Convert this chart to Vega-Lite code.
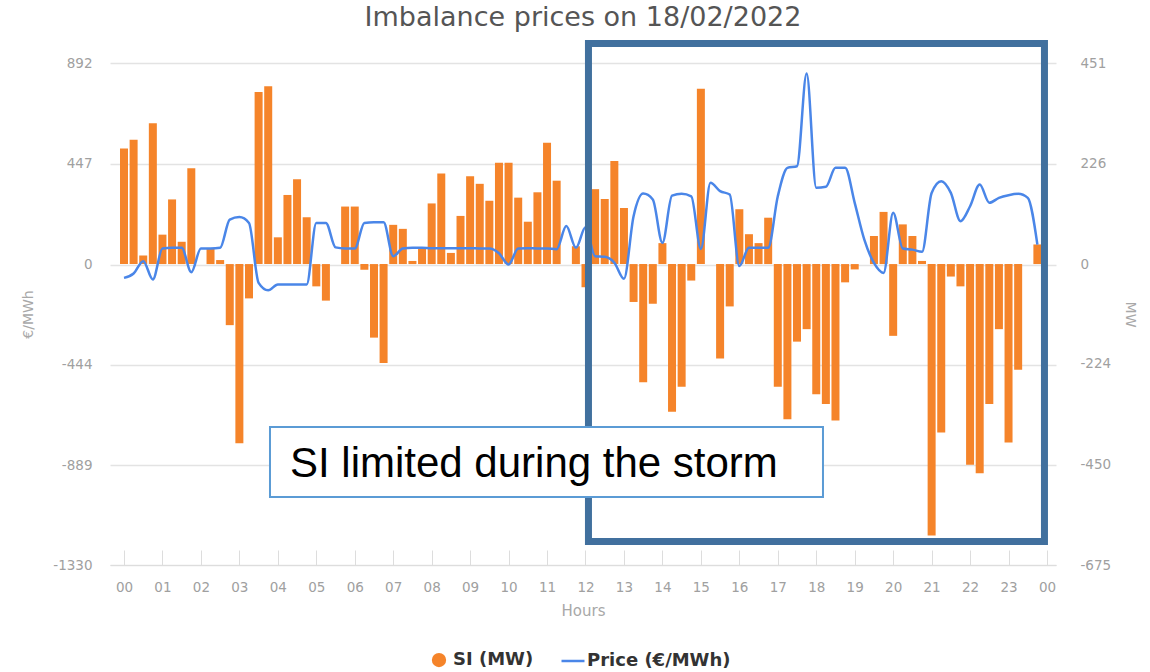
{
  "$schema": "https://vega.github.io/schema/vega-lite/v6.json",
  "width": 946,
  "height": 502,
  "autosize": {"type": "none"},
  "padding": {"left": 110, "top": 63, "right": 94, "bottom": 107},
  "background": "white",
  "title": {"text": "Imbalance prices on 18/02/2022", "font": "DejaVu Sans", "fontSize": 27, "fontWeight": "normal", "color": "#555555", "anchor": "middle", "offset": 8},
  "config": {
    "view": {"stroke": null},
    "axis": {"labelFont": "DejaVu Sans", "labelFontSize": 13.5, "labelColor": "#a0a0a0", "titleFont": "DejaVu Sans", "titleFontSize": 14, "titleColor": "#a8a8a8", "titleFontWeight": "normal", "gridColor": "#e3e3e3", "gridWidth": 1.5},
    "axisX": {"labelOverlap": false, "labelBound": false}
  },
  "datasets": {
    "imb": [
      {"t":0,"si":259,"price":-59},{"t":0.25,"si":279,"price":-40},{"t":0.5,"si":19,"price":15},{"t":0.75,"si":316,"price":-66},
      {"t":1,"si":66,"price":71},{"t":1.25,"si":145,"price":74},{"t":1.5,"si":50,"price":74},{"t":1.75,"si":215,"price":-34},
      {"t":2,"si":0,"price":71},{"t":2.25,"si":35,"price":71},{"t":2.5,"si":9,"price":74},{"t":2.75,"si":-137,"price":199},
      {"t":3,"si":-402,"price":210},{"t":3.25,"si":-77,"price":184},{"t":3.5,"si":386,"price":-81},{"t":3.75,"si":399,"price":-114},
      {"t":4,"si":60,"price":-88},{"t":4.25,"si":155,"price":-88},{"t":4.5,"si":190,"price":-88},{"t":4.75,"si":105,"price":-88},
      {"t":5,"si":-50,"price":184},{"t":5.25,"si":-82,"price":184},{"t":5.5,"si":0,"price":76},{"t":5.75,"si":129,"price":71},
      {"t":6,"si":129,"price":71},{"t":6.25,"si":-13,"price":184},{"t":6.5,"si":-165,"price":187},{"t":6.75,"si":-222,"price":187},
      {"t":7,"si":88,"price":37},{"t":7.25,"si":79,"price":71},{"t":7.5,"si":7,"price":74},{"t":7.75,"si":35,"price":74},
      {"t":8,"si":136,"price":72},{"t":8.25,"si":203,"price":72},{"t":8.5,"si":25,"price":72},{"t":8.75,"si":108,"price":72},
      {"t":9,"si":197,"price":72},{"t":9.25,"si":180,"price":71},{"t":9.5,"si":142,"price":71},{"t":9.75,"si":227,"price":50},
      {"t":10,"si":227,"price":0},{"t":10.25,"si":149,"price":71},{"t":10.5,"si":95,"price":72},{"t":10.75,"si":161,"price":71},
      {"t":11,"si":272,"price":71},{"t":11.25,"si":187,"price":68},{"t":11.5,"si":0,"price":170},{"t":11.75,"si":40,"price":74},
      {"t":12,"si":-52,"price":165},{"t":12.25,"si":168,"price":37},{"t":12.5,"si":146,"price":34},{"t":12.75,"si":231,"price":8},
      {"t":13,"si":126,"price":-63},{"t":13.25,"si":-85,"price":214},{"t":13.5,"si":-265,"price":314},{"t":13.75,"si":-89,"price":288},
      {"t":14,"si":47,"price":96},{"t":14.25,"si":-331,"price":305},{"t":14.5,"si":-275,"price":313},{"t":14.75,"si":-37,"price":302},
      {"t":15,"si":393,"price":69},{"t":15.25,"si":0,"price":362},{"t":15.5,"si":-212,"price":325},{"t":15.75,"si":-95,"price":310},
      {"t":16,"si":123,"price":-7},{"t":16.25,"si":67,"price":74},{"t":16.5,"si":47,"price":74},{"t":16.75,"si":104,"price":74},
      {"t":17,"si":-275,"price":302},{"t":17.25,"si":-348,"price":428},{"t":17.5,"si":-174,"price":435},{"t":17.75,"si":-146,"price":845},
      {"t":18,"si":-292,"price":340},{"t":18.25,"si":-314,"price":344},{"t":18.5,"si":-351,"price":428},{"t":18.75,"si":-41,"price":428},
      {"t":19,"si":-12,"price":273},{"t":19.25,"si":0,"price":110},{"t":19.5,"si":63,"price":7},{"t":19.75,"si":117,"price":-37},
      {"t":20,"si":-161,"price":229},{"t":20.25,"si":89,"price":71},{"t":20.5,"si":63,"price":66},{"t":20.75,"si":7,"price":56},
      {"t":21,"si":-609,"price":317},{"t":21.25,"si":-378,"price":369},{"t":21.5,"si":-28,"price":317},{"t":21.75,"si":-50,"price":192},
      {"t":22,"si":-450,"price":258},{"t":22.25,"si":-469,"price":354},{"t":22.5,"si":-314,"price":273},{"t":22.75,"si":-146,"price":295},
      {"t":23,"si":-400,"price":307},{"t":23.25,"si":-237,"price":313},{"t":23.5,"si":0,"price":295},{"t":23.75,"si":44,"price":88}
    ]
  },
  "encoding": {
    "x": {"field": "t", "type": "quantitative", "scale": {"domain": [-0.364, 24.234], "nice": false, "zero": false, "padding": 0},
      "axis": {"title": "Hours", "values": [0,1,2,3,4,5,6,7,8,9,10,11,12,13,14,15,16,17,18,19,20,21,22,23,24],
        "labelExpr": "datum.value == 24 ? '00' : (datum.value < 10 ? '0' + datum.value : '' + datum.value)",
        "labelOverlap": false, "labelBound": false, "labelSeparation": 0,
        "grid": false, "tickSize": -15, "tickColor": "#dddddd", "domainColor": "#dddddd", "labelPadding": 30, "titlePadding": 10, "titleFontSize": 15, "labelFlush": false}}
  },
  "layer": [
    {
      "data": {"name": "imb"},
      "mark": {"type": "bar", "width": 8},
      "encoding": {
        "y": {"field": "si", "type": "quantitative", "scale": {"domain": [-675, 451], "nice": false, "zero": false},
          "axis": {"orient": "right", "title": "MW", "values": [-675, -450, -224, 0, 226, 451], "labelExpr": "'' + datum.value", "grid": false, "domain": false, "ticks": false, "tickSize": 0, "labelPadding": 24, "titlePadding": 12}},
        "color": {"datum": "SI (MW)", "type": "nominal",
          "scale": {"domain": ["SI (MW)", "Price (€/MWh)"], "range": ["#F5842A", "#4A86E8"]},
          "legend": {"title": null, "orient": "none", "direction": "horizontal", "legendX": 316, "legendY": 584,
            "labelFont": "DejaVu Sans", "labelFontSize": 18, "labelFontWeight": "bold", "labelColor": "#333333", "columnPadding": 22, "labelOffset": 1, "symbolSize": 529, "symbolStrokeWidth": 2.5,
            "encode": {"symbols": {"update": {
              "shape": {"signal": "datum.value === 'SI (MW)' ? 'circle' : 'stroke'"},
              "fill": {"signal": "datum.value === 'SI (MW)' ? '#F5842A' : 'transparent'"},
              "stroke": {"signal": "datum.value === 'SI (MW)' ? 'transparent' : '#4A86E8'"},
              "strokeWidth": {"value": 2.5},
              "size": {"signal": "datum.value === 'SI (MW)' ? 140 : 529"}
            }}}}}
      }
    },
    {
      "layer": [
        {
          "data": {"name": "imb"},
          "mark": {"type": "line", "interpolate": "monotone", "strokeWidth": 2.5},
          "encoding": {
            "y": {"field": "price", "type": "quantitative", "scale": {"domain": [-1330, 892], "nice": false, "zero": false},
              "axis": {"orient": "left", "title": "€/MWh", "values": [-1330, -889, -444, 0, 447, 892], "labelExpr": "'' + datum.value", "grid": true, "domain": false, "ticks": false, "tickSize": 0, "labelPadding": 18, "titlePadding": 17}},
            "color": {"datum": "Price (€/MWh)", "type": "nominal"}
          }
        },
        {
          "data": {"values": [{"t": 12.077, "t2": 23.934, "p": 978, "p2": -1226}]},
          "mark": {"type": "rect", "filled": false, "stroke": "#41709E", "strokeWidth": 7},
          "encoding": {
            "x2": {"field": "t2"},
            "y": {"field": "p", "type": "quantitative"},
            "y2": {"field": "p2"}
          }
        },
        {
          "data": {"values": [{"t": 3.796, "t2": 18.175, "p": -719, "p2": -1029}]},
          "mark": {"type": "rect", "fill": "white", "stroke": "#5B9BD5", "strokeWidth": 2},
          "encoding": {
            "x2": {"field": "t2"},
            "y": {"field": "p", "type": "quantitative"},
            "y2": {"field": "p2"}
          }
        },
        {
          "data": {"values": [{"t": 4.316, "p": -883, "label": "SI limited during the storm"}]},
          "mark": {"type": "text", "align": "left", "baseline": "middle", "font": "Liberation Sans", "fontSize": 42, "color": "#000000"},
          "encoding": {
            "y": {"field": "p", "type": "quantitative"},
            "text": {"field": "label"}
          }
        }
      ]
    }
  ],
  "resolve": {"scale": {"y": "independent"}}
}
